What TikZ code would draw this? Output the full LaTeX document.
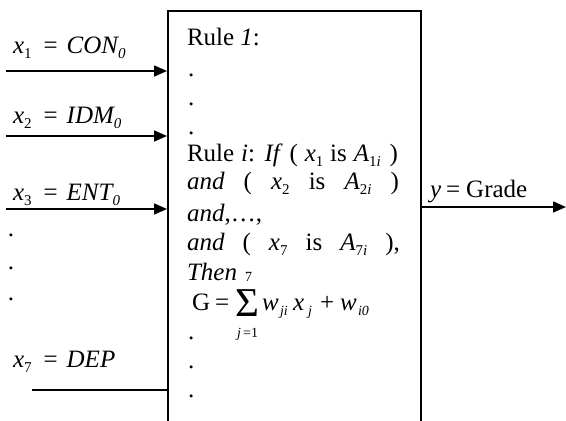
\documentclass[tikz,border=0pt]{standalone}
\usepackage{fontspec}
\setmainfont{Liberation Serif}
\usetikzlibrary{arrows.meta}
\newcommand{\sbs}[2][15]{\raisebox{-5pt}{\fontsize{#1}{#1}\selectfont #2}}
\begin{document}
\begin{tikzpicture}[x=1pt,y=-1pt,
  txt/.style={anchor=base west, inner sep=0pt, outer sep=0pt, font=\fontsize{25}{30}\selectfont},
  lbl/.style={anchor=base west, inner sep=0pt, outer sep=0pt, font=\fontsize{25}{30}\selectfont},
  sml/.style={anchor=base west, inner sep=0pt, outer sep=0pt, font=\fontsize{14}{16}\selectfont},
  wire/.style={line width=1.6pt},
  arr/.style={wire, -{Triangle[length=13pt,width=11pt]}}]
\useasboundingbox (0,0) rectangle (566,421);
\node[draw, line width=1.6pt, minimum width=253pt, minimum height=440pt, anchor=north west, inner sep=0pt] (box) at (167,10) {};
% inputs
\coordinate (s1) at (6,71);
\coordinate (s2) at (6,136);
\coordinate (s3) at (6,209);
\coordinate (s7) at (32,390);
\coordinate (o) at (566,207);
\draw[arr] (s1) -- (s1 -| box.west);
\draw[arr] (s2) -- (s2 -| box.west);
\draw[arr] (s3) -- (s3 -| box.west);
\draw[wire] (s7) -- (s7 -| box.west);
\draw[arr] (o -| box.east) -- (o);
% left labels
\node[lbl] (l1) at (13,53) {\textit{x}\sbs{1}\hspace{12pt}=\hspace{9pt}\textit{CON\sbs{0}}};
\node[lbl] (l2) at (13,123) {\textit{x}\sbs{2}\hspace{12pt}=\hspace{9pt}\textit{IDM\sbs{0}}};
\node[lbl] (l3) at (13,200) {\textit{x}\sbs{3}\hspace{12pt}=\hspace{9pt}\textit{ENT\sbs{0}}};
\node[lbl] (l7) at (13,367) {\textit{x}\sbs{7}\hspace{12pt}=\hspace{9pt}\textit{DEP}};
\node[txt] (ld1) at (8,236) {.};
\node[txt] (ld2) at (8,269) {.};
\node[txt] (ld3) at (8,300) {.};
% output label
\node[lbl] (yl) at (430,197) {\textit{y}\hspace{5pt}=\hspace{6pt}Grade};
% box text
\node[txt] (r1) at (187,45) {Rule \textit{1}:};
\node[txt] (d1) at (188,76) {.};
\node[txt] (d2) at (188,105) {.};
\node[txt] (d3) at (188,134) {.};
\node[txt] (ri) at (187,161) {\makebox[211pt][s]{Rule \textit{i}: \textit{If} ( \textit{x}\sbs{1} is \textit{A}\sbs{1\textit{i}}\hspace{2pt} )}};
\node[txt] (a2) at (187,189) {\makebox[212pt][s]{\textit{and} \hfill ( \hfill \textit{x}\sbs{2} \hfill is \hfill \textit{A}\sbs{2\textit{i}} \hfill )}};
\node[txt] (a3) at (187,221) {\textit{and},\ldots,};
\node[txt] (a7) at (187,250) {\makebox[213pt][s]{\textit{and} \hfill ( \hfill \textit{x}\sbs{7} \hfill is \hfill \textit{A}\sbs{7\textit{i}} \hfill ),}};
\node[txt] (th) at (187,280) {\textit{Then}};
\node[sml, text height=10pt, text depth=0pt] (up) at (245,281) {7};
\node[txt] (gG) at (192,310) {G};
\node[txt] (geq) at (215,310) {=};
\node[anchor=base west, inner sep=0pt, text height=27pt, text depth=0pt, font=\fontsize{41}{41}\selectfont] (sig) at (235,316) {Σ};
\node[sml, text height=10pt, text depth=0pt] (lo) at (237,337) {\textit{j}\,=1};
\node[txt] (w1) at (262,310) {\textit{w}};
\node[sml] (ji) at (280,315) {\textit{ji}};
\node[txt] (xj) at (293,310) {\textit{x}};
\node[sml] (jj) at (308,315) {\textit{j}};
\node[txt] (pl) at (320,310) {+};
\node[txt] (w2) at (340,310) {\textit{w}};
\node[sml] (i0) at (358,315) {\textit{i0}};
\node[txt] (e1) at (188,339) {.};
\node[txt] (e2) at (188,368) {.};
\node[txt] (e3) at (188,397) {.};
\end{tikzpicture}
\end{document}
